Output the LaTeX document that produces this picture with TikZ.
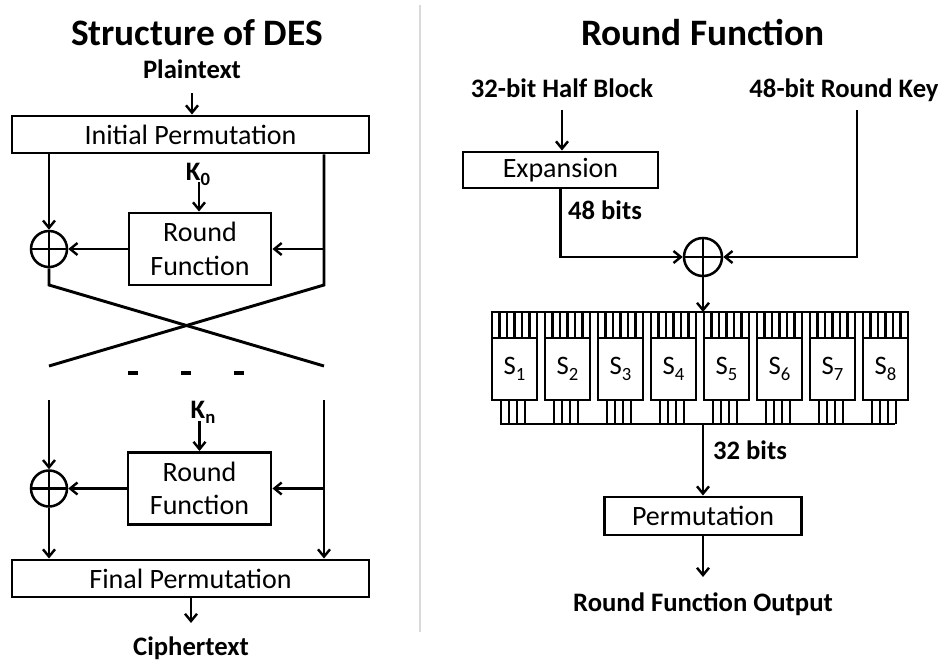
\documentclass[tikz,border=0pt]{standalone}
\usepackage{fontspec}
\setmainfont{Carlito}
\usetikzlibrary{arrows.meta,calc}

\newcommand{\subidx}[1]{\raisebox{-0.45ex}{\fontsize{14}{14}\selectfont #1}}

\begin{document}
\begin{tikzpicture}[x=0.75pt,y=-0.75pt,
  line width=2.2pt,
  arr/.style={-{Straight Barb[length=5.5pt,width=9pt,line width=1.8pt]}},
  box/.style={draw,line width=2.2pt,inner sep=0pt,font=\fontsize{21}{24}\selectfont},
  rbox/.style={box,align=center,font=\fontsize{21}{25}\selectfont},
  xorc/.style={draw,circle,line width=1.9pt,inner sep=0pt,minimum size=27pt,
    path picture={\draw[line width=1.6pt]
      (path picture bounding box.north) -- (path picture bounding box.south)
      (path picture bounding box.west) -- (path picture bounding box.east);}},
  titlelbl/.style={font=\fontsize{28}{32}\selectfont\bfseries,anchor=base,inner sep=0pt},
  lbl/.style={font=\fontsize{20}{24}\selectfont\bfseries,inner sep=0pt,anchor=base},
  sbox/.style={draw,line width=2.2pt,inner sep=0pt,minimum width=33.75pt,minimum height=46.5pt,
    font=\fontsize{20}{24}\selectfont},
  tick/.style={line width=1.7pt}
]
\useasboundingbox (0,0) rectangle (951,661);

% ---------- divider ----------
\draw[line width=2pt,black!15] (420,5) -- (420,632);

% ================= Structure of DES =================
\node[titlelbl] (t1) at (197,45) {Structure of DES};
\node[lbl] (pt) at (192,78) {Plaintext};
\node[box,minimum width=267.75pt,minimum height=27.75pt] (ip) at (190.5,134.5) {Initial Permutation};

\node[lbl] (k0) at (198,180) {K\subidx{0}};
\node[rbox,minimum width=106.5pt,minimum height=54pt] (rf1) at (200,249) {Round\\Function};
\node[xorc] (c1) at (49,249) {};

\coordinate (pta) at (192,93);
\coordinate (k0a) at (199,182);
\coordinate (lx1) at (49,285);
\coordinate (rx1) at (324,285);
\coordinate (lx2) at (49,366);
\coordinate (rx2) at (324,366);

\draw[arr] (pta) -- (pta |- ip.north);
\draw[arr] (ip.south -| c1) -- (c1.north);
\draw (ip.south -| rx1) -- (rx1) -- (lx2);
\draw (c1.south) -- (lx1) -- (rx2);
\draw[arr] (rf1.east -| rx1) -- (rf1.east);
\draw[arr] (rf1.west) -- (c1.east);
\draw[arr] (k0a) -- (k0a |- rf1.north);

% ellipsis between rounds
\foreach \dx/\nm in {133/d1,186/d2,239/d3}{
  \coordinate (\nm) at (\dx,373);
  \draw[line width=2.4pt] ($(\nm)+(-5,0)$) -- ($(\nm)+(5,0)$);
}

\node[lbl] (kn) at (203,418) {K\subidx{n}};
\node[rbox,minimum width=107.25pt,minimum height=54pt] (rf2) at (199.5,488.5) {Round\\Function};
\node[xorc] (c2) at (49,488.5) {};
\node[box,minimum width=267.75pt,minimum height=27.75pt] (fp) at (190.5,578.5) {Final Permutation};
\node[lbl] (ct) at (191,655) {Ciphertext};

\coordinate (kna) at (199.5,421);
\coordinate (lt2) at (49,400);
\coordinate (rt2) at (324,400);
\coordinate (cta) at (191,623);

\draw[arr] (lt2) -- (c2.north);
\draw[arr] (rt2) -- (rt2 |- fp.north);
\draw[arr] (rf2.east -| rt2) -- (rf2.east);
\draw[arr] (rf2.west) -- (c2.east);
\draw[arr] (c2.south) -- (c2 |- fp.north);
\draw[arr] (kna) -- (rf2.north);
\draw[arr] (cta |- fp.south) -- (cta);

% ================= Round Function =================
\node[titlelbl] (t2) at (703,45) {Round Function};
\node[lbl] (hb) at (562,97) {32-bit Half Block};
\node[lbl] (rk) at (844,97) {48-bit Round Key};
\node[box,minimum width=146.25pt,minimum height=27pt] (exp) at (560.5,170) {Expansion};
\node[lbl] (b48) at (605,219) {48 bits};
\node[xorc,minimum size=28.5pt] (c3) at (703,257) {};

\coordinate (kt) at (857,110);
\coordinate (hbt) at (562,110);

\draw[arr] (hbt) -- (hbt |- exp.north);
\draw[arr] (exp.south) -- (exp.south |- c3) -- (c3.west);
\draw[arr] (kt) -- (kt |- c3) -- (c3.east);

% S-boxes with input and output wires
\coordinate (tbus) at (703,312);
\coordinate (bbus) at (703,424);
\foreach \i in {1,...,8}{
  \pgfmathsetmacro{\lft}{492+53*(\i-1)}
  \node[sbox] (s\i) at ({\lft+22.5},369) {S\subidx{\i}};
  \foreach \k in {0,...,6}{
    \draw[tick] ({\lft+\k*7.5},312) -- ({\lft+\k*7.5},338);
  }
  \foreach \k in {0,...,3}{
    \draw[tick] ({\lft+9+\k*8},400) -- ({\lft+9+\k*8},424);
  }
}
\draw[line width=2.2pt] (s1.north west |- tbus) -- (s8.north east |- tbus);
\draw[line width=2.2pt] ($(s1.south west |- bbus)+(9,0)$) -- ($(s8.south west |- bbus)+(33,0)$);

\draw[arr] (c3.south) -- (tbus);

\node[box,minimum width=147.75pt,minimum height=28.5pt] (perm) at (703,516) {Permutation};
\node[lbl] (b32) at (750,459) {32 bits};
\node[lbl] (out) at (703,611) {Round Function Output};

\coordinate (outa) at (703,577);
\draw[arr] (bbus) -- (bbus |- perm.north);
\draw[arr] (perm.south) -- (outa);

\end{tikzpicture}
\end{document}
